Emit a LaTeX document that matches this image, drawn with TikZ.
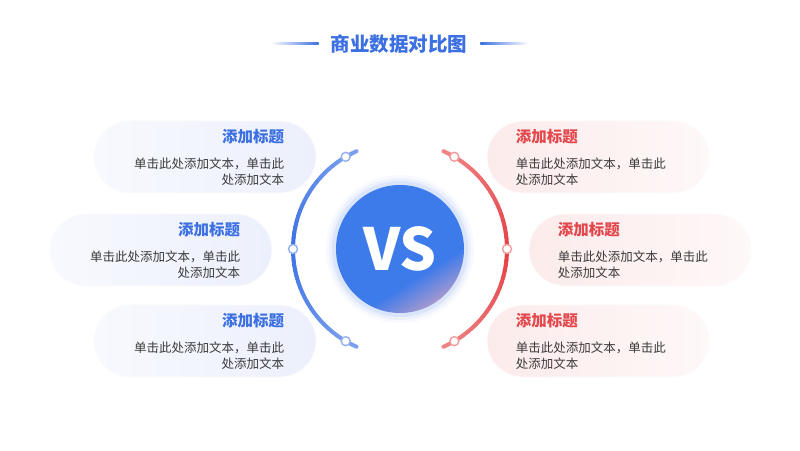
\documentclass[tikz,border=0pt]{standalone}
\usepackage{fontspec}
\setmainfont{Noto Sans CJK SC}
\usetikzlibrary{calc, positioning}

\definecolor{titleblue}{HTML}{3B6FE2}
\definecolor{titlered}{HTML}{E3474C}
\definecolor{bodygray}{HTML}{3A3A3A}
\definecolor{vsblue}{HTML}{3E7BEA}
\definecolor{vspink}{HTML}{D2A6C2}
\definecolor{arcblue}{HTML}{3A70E4}
\definecolor{arclightblue}{HTML}{93B1F0}
\definecolor{arcred}{HTML}{E43F44}
\definecolor{arclightred}{HTML}{F39C9C}
\definecolor{boxblue}{HTML}{ECF0FC}
\definecolor{boxpink}{HTML}{FCEBEB}

\pgfdeclareverticalshading{vsshade}{100bp}{color(0bp)=(vspink); color(24bp)=(vspink!75!vsblue); color(37bp)=(vsblue); color(100bp)=(vsblue)}

\begin{document}
\begin{tikzpicture}[x=1pt, y=1pt,
  pill/.style={rectangle, rounded corners=36pt, minimum width=222pt, minimum height=72pt, line width=0.8pt},
  bluepill/.style={pill, draw=boxblue!60!black!3, left color=boxblue!40, right color=boxblue},
  redpill/.style={pill, draw=boxpink!60!black!3, left color=boxpink, right color=boxpink!35},
  boxtitle/.style={inner sep=0pt, font=\fontsize{15.5pt}{18pt}\selectfont\bfseries},
  bodytext/.style={inner sep=0pt, text=bodygray, font=\fontsize{12.5pt}{16pt}\selectfont},
  dot/.style={circle, fill=white, draw=#1, line width=1.4pt, minimum size=9pt, inner sep=0pt},
  arcline/.style={line width=4pt, line cap=round}
]
\fill[white] (0,0) rectangle (800,450);
\useasboundingbox (0,0) rectangle (800,450);

\node[inner sep=0pt, text=titleblue, font=\fontsize{19.5pt}{22pt}\selectfont\bfseries] (title) at (399,406) {商业数据对比图};
\shade[left color=white, right color=titleblue] ($(title.west)+(-12,-1)$) rectangle ++(-48,2);
\shade[left color=titleblue, right color=white] ($(title.east)+(13,-1)$) rectangle ++(48,2);

\coordinate (c) at (400,201);
\foreach \r/\o in {74/0.04, 71/0.06, 68/0.10}
  \fill[vsblue, opacity=\o] (c) circle (\r);
\node[circle, minimum size=128pt, inner sep=0pt, shading=vsshade, shading angle=32, text=white,
  font=\fontsize{58pt}{60pt}\selectfont\bfseries] (vs) at (c) {VS};

\foreach \a in {114,117,...,243} {
  \pgfmathsetmacro\mix{100-abs(\a+1.5-180)*1.15}
  \draw[arcline, arcblue!\mix!arclightblue] ($(c)+(\a:107)$) arc (\a:\a+3:107);
}
\foreach \a in {-66,-63,...,63} {
  \pgfmathsetmacro\mix{100-abs(\a+1.5)*1.15}
  \draw[arcline, arcred!\mix!arclightred] ($(c)+(\a:107)$) arc (\a:\a+3:107);
}
\node[dot=arclightblue] (ld1) at ($(c)+(120.5:107)$) {};
\node[dot=arclightblue] (ld2) at ($(c)+(180:107)$) {};
\node[dot=arclightblue] (ld3) at ($(c)+(239.5:107)$) {};
\node[dot=arclightred] (rd1) at ($(c)+(59.5:107)$) {};
\node[dot=arclightred] (rd2) at ($(c)+(0:107)$) {};
\node[dot=arclightred] (rd3) at ($(c)+(-59.5:107)$) {};

\node[bluepill] (lt) at (205,293) {};
\node[bluepill] (lm) at (161,200) {};
\node[bluepill] (lb) at (205,109) {};
\node[redpill] (rt) at (598,293) {};
\node[redpill] (rm) at (640,200) {};
\node[redpill] (rb) at (598,109) {};

\foreach \b in {lt,lm,lb} {
  \node[boxtitle, text=titleblue, anchor=east] (\b-title) at ($(\b.north east)+(-32,-16)$) {添加标题};
  \node[bodytext, anchor=north east, align=right] (\b-body) at ($(\b.north east)+(-32,-37)$) {单击此处添加文本，单击此\\处添加文本};
}
\foreach \b in {rt,rm,rb} {
  \node[boxtitle, text=titlered, anchor=west] (\b-title) at ($(\b.north west)+(29,-16)$) {添加标题};
  \node[bodytext, anchor=north west, align=left] (\b-body) at ($(\b.north west)+(29,-37)$) {单击此处添加文本，单击此\\处添加文本};
}
\end{tikzpicture}
\end{document}
